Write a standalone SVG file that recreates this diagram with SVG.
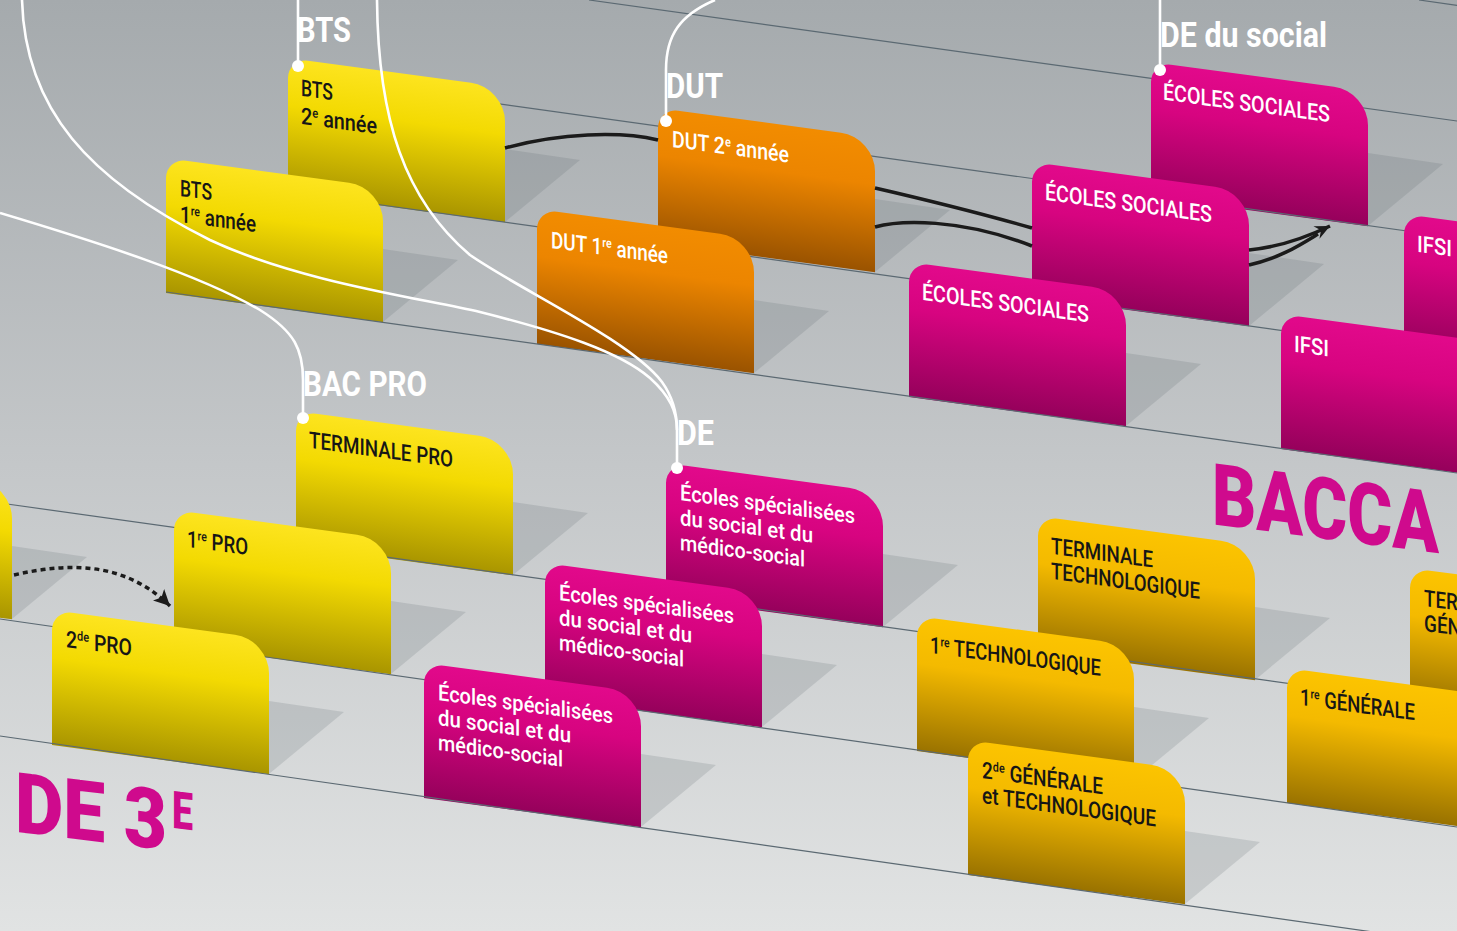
<svg xmlns="http://www.w3.org/2000/svg" width="1457" height="931" viewBox="0 0 1457 931">
<defs>
<linearGradient id="bg" x1="0" y1="0" x2="0" y2="1">
<stop offset="0" stop-color="#a5aaad"/><stop offset="0.5" stop-color="#c4c7c9"/><stop offset="1" stop-color="#e1e3e3"/>
</linearGradient>
<linearGradient id="gY" x1="0" y1="0" x2="0" y2="1">
<stop offset="0" stop-color="#fde41f"/><stop offset="0.35" stop-color="#f3da02"/><stop offset="1" stop-color="#a99500"/>
</linearGradient>
<linearGradient id="gO" x1="0" y1="0" x2="0" y2="1">
<stop offset="0" stop-color="#f28c00"/><stop offset="0.35" stop-color="#ec8500"/><stop offset="1" stop-color="#9a5300"/>
</linearGradient>
<linearGradient id="gM" x1="0" y1="0" x2="0" y2="1">
<stop offset="0" stop-color="#e2098b"/><stop offset="0.35" stop-color="#d70480"/><stop offset="1" stop-color="#95015b"/>
</linearGradient>
<linearGradient id="gG" x1="0" y1="0" x2="0" y2="1">
<stop offset="0" stop-color="#fcc400"/><stop offset="0.35" stop-color="#f4ba00"/><stop offset="1" stop-color="#997200"/>
</linearGradient>
<path id="card" d="M0,135 V20 A20,20 0 0 1 20,0 H183 A34,34 0 0 1 217,34 V135 Z"/>
<marker id="ah" viewBox="-16 -8 18 16" refX="0" refY="0" markerWidth="18" markerHeight="16" markerUnits="userSpaceOnUse" orient="auto">
<path d="M0,0 L-15,-7 L-10,0 L-15,7 Z" fill="#1b1b1b"/>
</marker>
<marker id="ahd" viewBox="-16 -9 18 18" refX="0" refY="0" markerWidth="18" markerHeight="18" markerUnits="userSpaceOnUse" orient="auto">
<path d="M0,0 L-16,-8 L-12,0 L-16,8 Z" fill="#1b1b1b"/>
</marker>
</defs>
<style>
.t{font-family:Roboto,"Liberation Sans",sans-serif;font-weight:500;font-size:23px}
.k{fill:#161616}
.w{fill:#ffffff}
.s{font-family:Roboto,"Liberation Sans",sans-serif;font-weight:500;font-size:22px;fill:#ffffff}
.sup{font-size:13px}
.lbl{font-family:Roboto,"Liberation Sans",sans-serif;font-weight:700;font-size:35px;fill:#ffffff}
.big{font-family:Roboto,"Liberation Sans",sans-serif;font-weight:900;fill:#cf0a8d}
.fl{stroke:#5b6972;stroke-width:1.2;fill:none}
.sh{fill:#56626a;fill-opacity:0.18}
.wl{stroke:#ffffff;stroke-width:2.6;fill:none}
.bl{stroke:#1b1b1b;stroke-width:3.5;fill:none}
.dot{fill:#ffffff}
</style>
<rect x="0" y="0" width="1457" height="931" fill="url(#bg)"/>

<g id="floor-back">
<path class="fl" d="M1419,0 L1457,5.3"/>
<path class="fl" d="M589,0 L1457,121"/>
</g>

<!-- row 1 -->
<polygon class="sh" points="1368,153 1443,164 1368,226"/>
<g id="ecoles-sociales-1" transform="matrix(1,0.135,0,1,1151,62)">
<use href="#card" fill="url(#gM)"/>
<text class="t w" x="12" y="36" textLength="167" lengthAdjust="spacingAndGlyphs">ÉCOLES SOCIALES</text>
</g>
<path class="fl" d="M300,76 L1457,238"/>

<!-- row 2 -->
<polygon class="sh" points="505,149 580,160 505,222"/>
<polygon class="sh" points="875,199 950,210 875,272"/>
<polygon class="sh" points="1249,253 1324,264 1249,326"/>
<g id="bts-2" transform="matrix(1,0.135,0,1,288,58)">
<use href="#card" fill="url(#gY)"/>
<text class="t k" x="13" y="36" textLength="32" lengthAdjust="spacingAndGlyphs">BTS</text>
<text class="t k" x="13" y="64" textLength="76" lengthAdjust="spacingAndGlyphs">2<tspan class="sup" dy="-8">e</tspan><tspan dy="8"> année</tspan></text>
</g>
<g id="dut-2" transform="matrix(1,0.135,0,1,658,108)">
<use href="#card" fill="url(#gO)"/>
<text class="t w" x="14" y="37" textLength="117" lengthAdjust="spacingAndGlyphs">DUT 2<tspan class="sup" dy="-8">e</tspan><tspan dy="8"> année</tspan></text>
</g>
<g id="ecoles-sociales-2" transform="matrix(1,0.135,0,1,1032,162)">
<use href="#card" fill="url(#gM)"/>
<text class="t w" x="13" y="36" textLength="167" lengthAdjust="spacingAndGlyphs">ÉCOLES SOCIALES</text>
</g>
<g id="ifsi-1" transform="matrix(1,0.135,0,1,1404,214)">
<use href="#card" fill="url(#gM)"/>
<text class="t w" x="13" y="36" textLength="35" lengthAdjust="spacingAndGlyphs">IFSI</text>
</g>
<path class="fl" d="M288,192 L1457,355"/>

<!-- row 3 -->
<polygon class="sh" points="383,249 458,260 383,322"/>
<polygon class="sh" points="754,300 829,311 754,373"/>
<polygon class="sh" points="1126,353 1201,364 1126,426"/>
<g id="bts-1" transform="matrix(1,0.135,0,1,166,158)">
<use href="#card" fill="url(#gY)"/>
<text class="t k" x="14" y="36" textLength="32" lengthAdjust="spacingAndGlyphs">BTS</text>
<text class="t k" x="14" y="62" textLength="76" lengthAdjust="spacingAndGlyphs">1<tspan class="sup" dy="-8">re</tspan><tspan dy="8"> année</tspan></text>
</g>
<g id="dut-1" transform="matrix(1,0.135,0,1,537,209)">
<use href="#card" fill="url(#gO)"/>
<text class="t w" x="14" y="37" textLength="117" lengthAdjust="spacingAndGlyphs">DUT 1<tspan class="sup" dy="-8">re</tspan><tspan dy="8"> année</tspan></text>
</g>
<g id="ecoles-sociales-3" transform="matrix(1,0.135,0,1,909,262)">
<use href="#card" fill="url(#gM)"/>
<text class="t w" x="13" y="36" textLength="167" lengthAdjust="spacingAndGlyphs">ÉCOLES SOCIALES</text>
</g>
<g id="ifsi-2" transform="matrix(1,0.135,0,1,1281,314)">
<use href="#card" fill="url(#gM)"/>
<text class="t w" x="13" y="36" textLength="35" lengthAdjust="spacingAndGlyphs">IFSI</text>
</g>
<path class="fl" d="M166,292 L1457,473"/>

<g id="title-bacca" transform="matrix(1,0.128,0,1,0,0)">
<text class="big" x="1212" y="369" font-size="86" textLength="227" lengthAdjust="spacingAndGlyphs">BACCA</text>
</g>

<!-- row 5 -->
<polygon class="sh" points="513,502 588,513 513,575"/>
<polygon class="sh" points="883,554 958,565 883,627"/>
<polygon class="sh" points="1255,607 1330,618 1255,680"/>
<g id="terminale-pro" transform="matrix(1,0.135,0,1,296,411)">
<use href="#card" fill="url(#gY)"/>
<text class="t k" x="13" y="35" textLength="144" lengthAdjust="spacingAndGlyphs">TERMINALE PRO</text>
</g>
<g id="ecoles-specialisees-1" transform="matrix(1,0.135,0,1,666,463)">
<use href="#card" fill="url(#gM)"/>
<text class="s" x="14" y="35" textLength="175" lengthAdjust="spacingAndGlyphs">Écoles spécialisées</text>
<text class="s" x="14" y="60" textLength="133" lengthAdjust="spacingAndGlyphs">du social et du</text>
<text class="s" x="14" y="85" textLength="125" lengthAdjust="spacingAndGlyphs">médico-social</text>
</g>
<g id="terminale-technologique" transform="matrix(1,0.135,0,1,1038,516)">
<use href="#card" fill="url(#gG)"/>
<text class="t k" x="13" y="36" textLength="102" lengthAdjust="spacingAndGlyphs">TERMINALE</text>
<text class="t k" x="13" y="61" textLength="149" lengthAdjust="spacingAndGlyphs">TECHNOLOGIQUE</text>
</g>
<g id="terminale-generale" transform="matrix(1,0.135,0,1,1410,568)">
<use href="#card" fill="url(#gG)"/>
<text class="t k" x="14" y="36" textLength="102" lengthAdjust="spacingAndGlyphs">TERMINALE</text>
<text class="t k" x="14" y="61" textLength="93" lengthAdjust="spacingAndGlyphs">GÉNÉRALE</text>
</g>
<path class="fl" d="M0,503 L1457,707"/>

<!-- row 6 -->
<polygon class="sh" points="12,546 87,557 12,619"/>
<polygon class="sh" points="391,601 466,612 391,674"/>
<polygon class="sh" points="762,654 837,665 762,727"/>
<polygon class="sh" points="1134,707 1209,718 1134,780"/>
<g id="seconde-partielle" transform="matrix(1,0.135,0,1,-205,455)">
<use href="#card" fill="url(#gY)"/>
</g>
<g id="premiere-pro" transform="matrix(1,0.135,0,1,174,510)">
<use href="#card" fill="url(#gY)"/>
<text class="t k" x="13" y="35" textLength="61" lengthAdjust="spacingAndGlyphs">1<tspan class="sup" dy="-8">re</tspan><tspan dy="8"> PRO</tspan></text>
</g>
<g id="ecoles-specialisees-2" transform="matrix(1,0.135,0,1,545,563)">
<use href="#card" fill="url(#gM)"/>
<text class="s" x="14" y="35" textLength="175" lengthAdjust="spacingAndGlyphs">Écoles spécialisées</text>
<text class="s" x="14" y="60" textLength="133" lengthAdjust="spacingAndGlyphs">du social et du</text>
<text class="s" x="14" y="85" textLength="125" lengthAdjust="spacingAndGlyphs">médico-social</text>
</g>
<g id="premiere-technologique" transform="matrix(1,0.135,0,1,917,616)">
<use href="#card" fill="url(#gG)"/>
<text class="t k" x="13" y="35" textLength="171" lengthAdjust="spacingAndGlyphs">1<tspan class="sup" dy="-8">re</tspan><tspan dy="8"> TECHNOLOGIQUE</tspan></text>
</g>
<g id="premiere-generale" transform="matrix(1,0.135,0,1,1287,668)">
<use href="#card" fill="url(#gG)"/>
<text class="t k" x="13" y="35" textLength="115" lengthAdjust="spacingAndGlyphs">1<tspan class="sup" dy="-8">re</tspan><tspan dy="8"> GÉNÉRALE</tspan></text>
</g>
<path class="fl" d="M0,619 L1457,827"/>

<!-- row 7 -->
<polygon class="sh" points="269,701 344,712 269,774"/>
<polygon class="sh" points="641,754 716,765 641,827"/>
<polygon class="sh" points="1185,831 1260,842 1185,904"/>
<g id="seconde-pro" transform="matrix(1,0.135,0,1,52,610)">
<use href="#card" fill="url(#gY)"/>
<text class="t k" x="14" y="35" textLength="66" lengthAdjust="spacingAndGlyphs">2<tspan class="sup" dy="-8">de</tspan><tspan dy="8"> PRO</tspan></text>
</g>
<g id="ecoles-specialisees-3" transform="matrix(1,0.135,0,1,424,663)">
<use href="#card" fill="url(#gM)"/>
<text class="s" x="14" y="35" textLength="175" lengthAdjust="spacingAndGlyphs">Écoles spécialisées</text>
<text class="s" x="14" y="60" textLength="133" lengthAdjust="spacingAndGlyphs">du social et du</text>
<text class="s" x="14" y="85" textLength="125" lengthAdjust="spacingAndGlyphs">médico-social</text>
</g>
<g id="seconde-generale-technologique" transform="matrix(1,0.135,0,1,968,740)">
<use href="#card" fill="url(#gG)"/>
<text class="t k" x="14" y="36" textLength="121" lengthAdjust="spacingAndGlyphs">2<tspan class="sup" dy="-8">de</tspan><tspan dy="8"> GÉNÉRALE</tspan></text>
<text class="t k" x="14" y="61" textLength="174" lengthAdjust="spacingAndGlyphs">et TECHNOLOGIQUE</text>
</g>
<path class="fl" d="M0,736 L1457,944"/>

<g id="title-de-3e" transform="matrix(1,0.12,0,1,0,0)">
<text class="big" x="15" y="830" font-size="84" textLength="152" lengthAdjust="spacingAndGlyphs">DE 3</text>
<text class="big" x="172" y="807" font-size="52" textLength="21" lengthAdjust="spacingAndGlyphs">E</text>
</g>

<g id="connectors">
<path class="wl" d="M22,0 C25,110 90,180 210,240 C300,282 420,298 480,312 C560,332 620,352 650,378 C670,396 677,412 677,430 L677,468"/>
<path class="wl" d="M377,0 C378,120 405,200 470,255 C520,290 630,340 662,382 C672,396 677,410 677,430"/>
<path class="wl" d="M0,213 C100,243 200,275 260,310 C295,332 303,350 303,380 L303,418"/>
<path class="wl" d="M715,0 C680,15 666,35 666,70 L666,121"/>
<path class="wl" d="M298,0 L298,66"/>
<path class="wl" d="M1160,0 L1160,70"/>
<circle class="dot" cx="298" cy="66" r="6"/>
<circle class="dot" cx="666" cy="121" r="6"/>
<circle class="dot" cx="1160" cy="70" r="6"/>
<circle class="dot" cx="303" cy="418" r="6"/>
<circle class="dot" cx="677" cy="468" r="6"/>
<path class="bl" d="M505,148 C560,133 620,131 658,140"/>
<path class="bl" d="M875,188 C940,203 990,216 1032,228"/>
<path class="bl" d="M875,227 C900,220 960,218 1032,246"/>
<path class="bl" d="M1249,265 C1280,258 1300,245 1318,234"/>
<path class="bl" d="M1249,250 C1280,247 1305,238 1330,226" marker-end="url(#ah)"/>
<path class="bl" d="M14,575 C70,562 125,562 170,606" stroke-width="4.5" stroke-dasharray="5 4" marker-end="url(#ahd)"/>
</g>

<g id="labels">
<text class="lbl" x="297" y="42" textLength="54" lengthAdjust="spacingAndGlyphs">BTS</text>
<text class="lbl" x="666" y="98" textLength="57" lengthAdjust="spacingAndGlyphs">DUT</text>
<text class="lbl" x="1160" y="47" textLength="167" lengthAdjust="spacingAndGlyphs">DE du social</text>
<text class="lbl" x="303" y="396" textLength="124" lengthAdjust="spacingAndGlyphs">BAC PRO</text>
<text class="lbl" x="677" y="445" textLength="37" lengthAdjust="spacingAndGlyphs">DE</text>
</g>
</svg>
